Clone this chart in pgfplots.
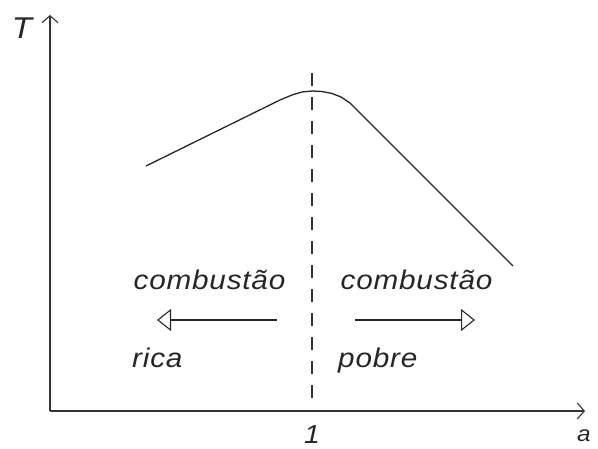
\documentclass[border=0pt]{standalone}
\usepackage{pgfplots}
\pgfplotsset{compat=1.18}
\usetikzlibrary{arrows.meta}
\usepackage{fontspec}
\setmainfont{Liberation Sans}
\newfontfamily\labelfont{Liberation Sans}[FakeStretch=1.1,LetterSpace=3]

\begin{document}
\begin{tikzpicture}
\begin{axis}[
  x=1pt, y=1pt,
  xmin=0, xmax=535, ymin=0, ymax=396,
  axis x line=bottom, axis y line=left,
  axis line style={black!80, line width=1.2pt, -{Straight Barb[length=7pt,width=16pt,line width=1.1pt]}},
  ticks=none,
  clip=false,
]
% temperature curve
\addplot[black!85, line width=1.3pt] coordinates {
  (96,245) (230,311) (242,316) (252,319) (262,320) (272,319.5)
  (282,317.5) (291,314) (300,308) (463,145)
};
% stoichiometric line
\addplot[black!80, line width=1.4pt, dash pattern=on 13pt off 11pt] coordinates {(262,338) (262,9)};
% direction arrows
\addplot[black!85, line width=1.1pt, -{Triangle[open,length=14pt,width=22pt,line width=1.1pt]}] coordinates {(227,91) (107,91)};
\addplot[black!85, line width=1.1pt, -{Triangle[open,length=14pt,width=22pt,line width=1.1pt]}] coordinates {(305,91) (425,91)};

\node[anchor=base, text=black!85, font=\labelfont\itshape\fontsize{27}{30}\selectfont] at (axis cs:159.5,122) {combustão};
\node[anchor=base, text=black!85, font=\labelfont\itshape\fontsize{27}{30}\selectfont] at (axis cs:366.5,122) {combustão};
\node[anchor=base west, inner sep=0pt, text=black!85, font=\labelfont\itshape\fontsize{27}{30}\selectfont] at (axis cs:82,44) {rica};
\node[anchor=base west, inner sep=0pt, text=black!85, font=\labelfont\itshape\fontsize{27}{30}\selectfont] at (axis cs:288,44) {pobre};

\node[anchor=north, inner sep=0pt, text=black!85, font=\labelfont\itshape\fontsize{30}{34}\selectfont] at (axis cs:-28,393) {T};
\node[anchor=north, inner sep=0pt, text=black!85, font=\labelfont\itshape\fontsize{26}{30}\selectfont] at (axis cs:262,-14) {1};
\node[anchor=base west, inner sep=0pt, text=black!85, font=\labelfont\itshape\fontsize{22}{26}\selectfont] at (axis cs:527,-30) {a};
\end{axis}
\pgfresetboundingbox
\path[use as bounding box] (-50pt,-37pt) rectangle (548pt,411pt);
\end{tikzpicture}
\end{document}
